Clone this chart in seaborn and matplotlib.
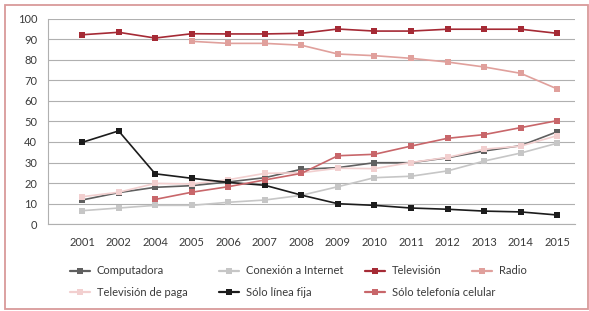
import numpy as np
import pandas as pd
import matplotlib.pyplot as plt
import seaborn as sns
from matplotlib.lines import Line2D
from matplotlib.patches import Rectangle

# Data
years = ['2001', '2002', '2004', '2005', '2006', '2007', '2008',
         '2009', '2010', '2011', '2012', '2013', '2014', '2015']
computadora = [11.7, 15.3, 17.9, 18.7, 20.5, 22.6, 26.7, 27.5, 29.9, 29.9, 32.3, 35.6, 38.2, 45.0]
internet = [6.5, 7.8, 9.1, 9.1, 10.6, 11.7, 14.0, 18.2, 22.6, 23.3, 25.9, 30.7, 34.6, 39.4]
television = [92.3, 93.5, 90.7, 92.8, 92.7, 92.7, 93.0, 95.1, 94.1, 94.1, 95.0, 95.0, 95.0, 93.0]
radio = [np.nan, np.nan, np.nan, 89.1, 88.1, 88.1, 87.2, 82.9, 82.1, 80.8, 79.0, 76.6, 73.5, 65.9]
tv_paga = [13.3, 15.5, 19.8, 19.5, 21.6, 24.7, 25.0, 27.2, 27.0, 30.0, 32.5, 36.5, 38.0, 43.1]
linea_fija = [39.8, 45.4, 24.5, 22.3, 20.3, 18.9, 14.1, 9.9, 9.1, 7.8, 7.2, 6.3, 5.9, 4.4]
celular = [np.nan, np.nan, 12.0, 15.5, 18.2, 21.5, 24.7, 33.3, 34.0, 38.0, 41.8, 43.6, 47.0, 50.4]

series = ['Computadora', 'Conexión a Internet', 'Televisión', 'Radio',
          'Televisión de paga', 'Sólo línea fija', 'Sólo telefonía celular']
colors = ['#5f5f5f', '#c6c6c6', '#a52a35', '#e0a09c', '#f2cfcf', '#1c1c1c', '#c8666a']

df = pd.DataFrame({'pos': range(len(years)), 'year': years,
                   series[0]: computadora, series[1]: internet, series[2]: television,
                   series[3]: radio, series[4]: tv_paga, series[5]: linea_fija,
                   series[6]: celular})
long_df = df.melt(id_vars=['pos', 'year'], var_name='serie', value_name='valor').dropna()

sns.set_style('white')
plt.rcParams['font.family'] = ['Lato', 'DejaVu Sans']

fig = plt.figure(figsize=(5.89, 3.11), dpi=100)
ax = fig.add_axes([0.081, 0.2797, 0.896, 0.6593])

sns.lineplot(data=long_df, x='pos', y='valor', hue='serie', hue_order=series,
             palette=colors, marker='s', markersize=4.5, markeredgewidth=0,
             linewidth=1.2, legend=False, ax=ax)

grid_c = '#b0b0b0'
ax.set_ylim(0, 100)
ax.set_xlim(-0.94, len(years) - 0.5)
ax.set_yticks(range(0, 101, 10))
ax.yaxis.grid(True, color=grid_c, linewidth=0.8)
ax.set_axisbelow(True)
ax.set_xticks([-0.94] + list(range(len(years))))
ax.set_xticklabels([''] + years)
ax.tick_params(axis='both', labelsize=8, labelcolor='#3a3a3a', color=grid_c,
               length=4.3, width=0.8, direction='out')
ax.tick_params(axis='x', pad=5)
ax.tick_params(axis='y', pad=3.2)
ax.set_xlabel('')
ax.set_ylabel('')
for s in ['top', 'right']:
    ax.spines[s].set_visible(False)
for s in ['left', 'bottom']:
    ax.spines[s].set_color(grid_c)
    ax.spines[s].set_linewidth(0.8)

# Legend entries placed like the original two-row layout
leg_pos = [(70, 271), (219, 271), (365, 271), (472, 271),
           (70, 292), (219, 292), (365, 292)]
for name, col, (px, py) in zip(series, colors, leg_pos):
    h = Line2D([], [], color=col, marker='s', markersize=4.5, markeredgewidth=0, linewidth=1.6)
    lg = fig.legend([h], [name], loc='center left', bbox_to_anchor=(px / 589, 1 - py / 311),
                    frameon=False, fontsize=8, handlelength=1.8, handletextpad=0.6,
                    borderpad=0, borderaxespad=0)
    for t in lg.get_texts():
        t.set_color('#3a3a3a')

fig.patches.append(Rectangle((5 / 589, 2 / 311), 582.5 / 589, 304 / 311,
                             transform=fig.transFigure, fill=False,
                             edgecolor='#d99a9a', linewidth=1.3))

fig.savefig('out.png', dpi=100)
